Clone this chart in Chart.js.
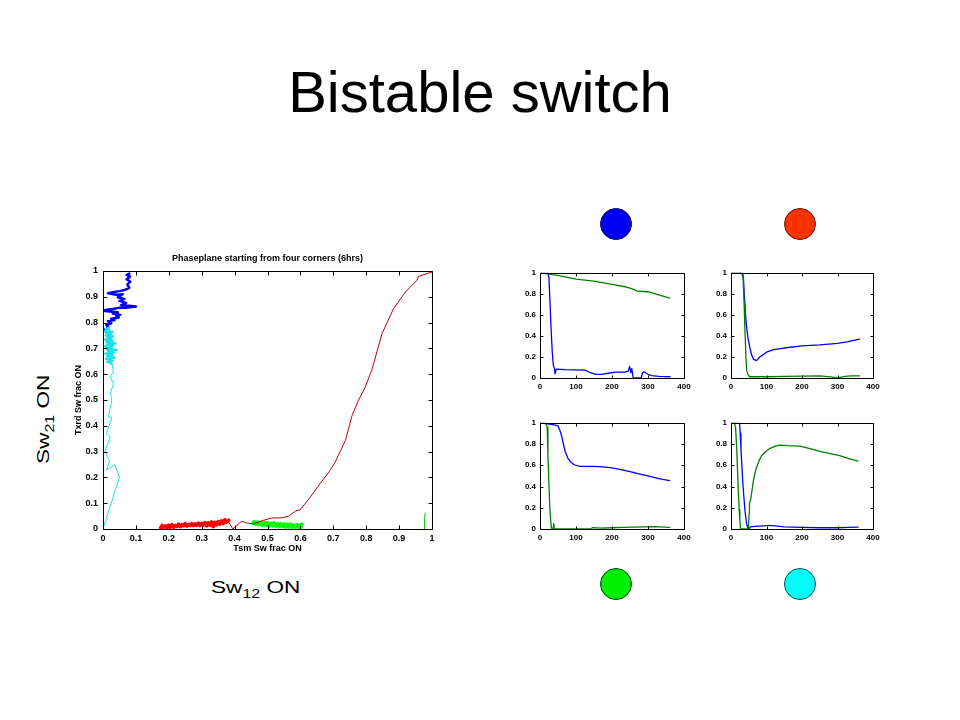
<!DOCTYPE html>
<html>
<head>
<meta charset="utf-8">
<title>Bistable switch</title>
<script src="https://cdn.jsdelivr.net/npm/chart.js@4.4.1/dist/chart.umd.min.js"></script>
<style>
  html, body { margin: 0; padding: 0; background: #fff; }
  body { width: 960px; height: 720px; position: relative; overflow: hidden; font-family: 'Liberation Sans', Arial, sans-serif; color: #000; }
  .box { position: absolute; }
  .slide-title { position: absolute; left: 0; top: 63px; width: 960px; text-align: center; font-size: 58px; line-height: 58px; }
  .dot { position: absolute; box-sizing: border-box; width: 32px; height: 32px; border-radius: 50%; border: 1px solid #222; }
  .side { position: absolute; font-size: 17px; line-height: 17px; white-space: nowrap; }
  .side .sub { font-size: 12px; position: relative; top: 5px; }
</style>
</head>
<body>
<div class="slide-title">Bistable switch</div>

<div class="side" style="left:35px; top:464px; transform-origin:0 0; transform:rotate(-90deg) scaleX(1.33);">Sw<span class="sub">21</span> ON</div>
<div class="side" style="left:211px; top:579px; transform-origin:0 0; transform:scaleX(1.33);">Sw<span class="sub">12</span> ON</div>

<div class="dot" style="left:600px; top:208px; background:#0000f0; border-color:#000060;"></div>
<div class="dot" style="left:784px; top:208px; background:#ff3300; border-color:#601000;"></div>
<div class="dot" style="left:600px; top:568px; background:#00ee00; border-color:#004000;"></div>
<div class="dot" style="left:784px; top:568px; background:#00ffff; border-color:#005050;"></div>

<div class="box" style="left:60px; top:244px; width:382px; height:312px;"><canvas id="phase"></canvas></div>
<div class="box" style="left:506px; top:264px; width:190px; height:134px;"><canvas id="cornerBlue"></canvas></div>
<div class="box" style="left:697px; top:264px; width:188px; height:134px;"><canvas id="cornerRed"></canvas></div>
<div class="box" style="left:506px; top:414px; width:190px; height:135px;"><canvas id="cornerGreen"></canvas></div>
<div class="box" style="left:697px; top:414px; width:188px; height:135px;"><canvas id="cornerCyan"></canvas></div>

<script>
// tick labels
const fracMainTicks = [0, 0.1, 0.2, 0.3, 0.4, 0.5, 0.6, 0.7, 0.8, 0.9, 1];
const timeTicks = [0, 100, 200, 300, 400];
const fracTicks = [0, 0.2, 0.4, 0.6, 0.8, 1];

// phase plane: [Tsm frac ON, Txrd frac ON]
const cyanPath = [[0,0],[0.02,0.08],[0.035,0.14],[0.05,0.2],[0.036,0.25],[0.017,0.232],[0.011,0.229],[0.02,0.262],[0.016,0.274],[0.006,0.3],[0.012,0.322],[0.022,0.357],[0.011,0.37],[0.017,0.395],[0.027,0.43],[0.017,0.435],[0.02,0.46],[0.027,0.5],[0.022,0.525],[0.032,0.563],[0.022,0.59],[0.032,0.609],[0.027,0.64]];
const cyanCluster = [[0.027,0.64],[0.012,0.648],[0.03,0.652],[0.008,0.66],[0.036,0.664],[0.012,0.67],[0.03,0.675],[0.006,0.68],[0.034,0.684],[0.014,0.69],[0.042,0.694],[0.01,0.698],[0.028,0.702],[0.006,0.707],[0.032,0.712],[0.012,0.716],[0.038,0.72],[0.01,0.725],[0.03,0.729],[0.006,0.734],[0.026,0.738],[0.012,0.742],[0.032,0.747],[0.008,0.751],[0.026,0.756],[0.01,0.76],[0.03,0.764],[0.006,0.768],[0.02,0.772],[0.008,0.776],[0.018,0.78]];
const bluePath = [[0.08,0.99],[0.072,0.985],[0.082,0.978],[0.072,0.968],[0.083,0.958],[0.074,0.948],[0.08,0.935],[0.065,0.926],[0.05,0.922],[0.03,0.918],[0.015,0.914],[0.04,0.908],[0.06,0.91],[0.045,0.898],[0.065,0.892],[0.05,0.884],[0.07,0.876],[0.055,0.868],[0.1,0.862],[0.07,0.858],[0.05,0.858],[0.03,0.853],[0.012,0.85],[0,0.846],[0.02,0.843],[0.045,0.84],[0.03,0.835],[0.052,0.83],[0.04,0.826],[0.048,0.82],[0.025,0.815],[0.035,0.81],[0.015,0.805],[0.025,0.797],[0.01,0.79],[0.016,0.782],[0.005,0.772],[0.01,0.764]];
const redPath = [[0.382,0.027],[0.395,0],[0.407,0.014],[0.422,0.03],[0.438,0.023],[0.458,0.02],[0.488,0.034],[0.514,0.043],[0.539,0.043],[0.564,0.049],[0.585,0.07],[0.6,0.075],[0.63,0.124],[0.66,0.176],[0.69,0.227],[0.706,0.26],[0.737,0.344],[0.757,0.44],[0.777,0.5],[0.797,0.55],[0.818,0.62],[0.848,0.757],[0.883,0.854],[0.919,0.918],[0.954,0.964],[0.959,0.979],[1,0.996]];
const redCluster = [[0.175,0.005],[0.18,0.014],[0.185,0.005],[0.19,0.012],[0.195,0.006],[0.2,0.015],[0.205,0.008],[0.21,0.017],[0.215,0.007],[0.22,0.014],[0.225,0.01],[0.23,0.019],[0.235,0.009],[0.24,0.017],[0.245,0.012],[0.25,0.021],[0.255,0.011],[0.26,0.018],[0.265,0.013],[0.27,0.021],[0.275,0.013],[0.28,0.02],[0.285,0.014],[0.29,0.023],[0.295,0.013],[0.3,0.022],[0.305,0.015],[0.31,0.025],[0.315,0.012],[0.32,0.024],[0.325,0.014],[0.33,0.028],[0.335,0.009],[0.34,0.026],[0.345,0.016],[0.35,0.029],[0.355,0.018],[0.36,0.032],[0.365,0.021],[0.37,0.036],[0.375,0.026],[0.382,0.034]];
const greenCluster = [[0.455,0.022],[0.46,0.029],[0.465,0.018],[0.47,0.027],[0.475,0.017],[0.48,0.026],[0.485,0.015],[0.49,0.026],[0.495,0.013],[0.5,0.024],[0.505,0.011],[0.51,0.022],[0.515,0.012],[0.52,0.024],[0.525,0.011],[0.53,0.02],[0.535,0.009],[0.54,0.021],[0.545,0.01],[0.55,0.02],[0.555,0.007],[0.56,0.018],[0.565,0.008],[0.57,0.019],[0.575,0.006],[0.58,0.016],[0.585,0.007],[0.59,0.017],[0.595,0.005],[0.6,0.016],[0.603,0.008],[0.605,0.019]];
const greenPath = [[0.976,0],[0.977,0.02],[0.978,0.04],[0.979,0.06]];

// corner runs: [minutes, frac ON]
const blueCornerBlue = [[0,1],[22,1],[25,0.95],[28,0.7],[31,0.45],[34,0.25],[37,0.12],[40,0.09],[42,0.04],[45,0.085],[70,0.08],[100,0.078],[125,0.075],[140,0.05],[155,0.035],[170,0.035],[190,0.045],[210,0.055],[235,0.055],[245,0.065],[249,0.11],[252,0.05],[255,0.09],[259,0],[281,0],[285,0.05],[289,0.06],[300,0.035],[310,0.022],[330,0.015],[361,0.012]];
const blueCornerGreen = [[0,1],[20,0.99],[50,0.975],[100,0.94],[150,0.92],[200,0.89],[240,0.865],[250,0.855],[262,0.84],[270,0.825],[300,0.82],[330,0.79],[360,0.76]];
const redCornerBlue = [[0,1],[33,1],[35,0.95],[37.5,0.79],[41,0.6],[44,0.48],[48,0.38],[53,0.29],[58,0.22],[63,0.18],[72,0.165],[81,0.2],[90,0.22],[100,0.245],[120,0.27],[150,0.285],[200,0.305],[250,0.315],[300,0.33],[330,0.345],[362,0.37]];
const redCornerGreen = [[0,1],[30,1],[34,0.95],[37,0.7],[39,0.48],[42,0.2],[44,0.075],[48,0.03],[52,0.012],[100,0.012],[150,0.015],[200,0.018],[250,0.02],[280,0.01],[300,0.002],[320,0.015],[340,0.02],[362,0.02]];
const greenCornerBlue = [[0,1],[20,0.99],[40,0.98],[50,0.97],[55,0.93],[60,0.88],[65,0.8],[70,0.73],[77,0.67],[85,0.63],[95,0.605],[110,0.59],[130,0.59],[150,0.59],[175,0.585],[200,0.575],[225,0.56],[250,0.54],[275,0.52],[300,0.5],[330,0.475],[360,0.455]];
const greenCornerGreen = [[0,1],[15,1],[20,0.96],[22,0.7],[25,0.4],[28,0.15],[31,0.02],[33,0],[37,0],[38,0.05],[40,0],[140,0],[145,0.012],[170,0.008],[200,0.012],[230,0.015],[260,0.018],[290,0.02],[320,0.022],[360,0.015]];
const cyanCornerBlue = [[0,1],[24,1],[26,0.9],[28,0.75],[30,0.64],[33,0.45],[37,0.27],[40,0.15],[44,0.05],[48,0],[52,0],[54,0.02],[70,0.025],[90,0.03],[110,0.035],[125,0.03],[150,0.02],[200,0.015],[250,0.012],[300,0.012],[330,0.015],[358,0.018]];
const cyanCornerGreen = [[0,1],[10,1],[13,0.95],[16,0.76],[19,0.5],[21,0.33],[23,0.18],[25,0.08],[27,0],[49,0],[51,0.15],[52,0.24],[55,0.27],[59,0.36],[63,0.45],[67,0.52],[72,0.58],[80,0.65],[86,0.69],[98,0.73],[110,0.76],[125,0.78],[138,0.79],[160,0.785],[194,0.78],[220,0.76],[250,0.73],[280,0.71],[306,0.69],[330,0.665],[358,0.64]];

Chart.defaults.font.family = "'Liberation Sans', Arial, sans-serif";
Chart.defaults.font.weight = 'bold';
Chart.defaults.color = '#000';
Chart.defaults.animation = false;

// matlab style box with inward ticks on all four sides
const boxTicks = {
    id: 'boxTicks',
    afterDatasetsDraw(chart, args, opts) {
        const { ctx, chartArea: a, scales: { x, y } } = chart;
        const len = opts.len || 4;
        const L = Math.round(a.left) + 0.5, R = Math.round(a.right) + 0.5;
        const T = Math.round(a.top) + 0.5, B = Math.round(a.bottom) + 0.5;
        ctx.save();
        ctx.strokeStyle = '#000';
        ctx.lineWidth = 1;
        ctx.beginPath();
        ctx.rect(L, T, R - L, B - T);
        x.ticks.forEach(t => {
            const px = Math.round(x.getPixelForValue(t.value)) + 0.5;
            ctx.moveTo(px, B); ctx.lineTo(px, B - len);
            ctx.moveTo(px, T); ctx.lineTo(px, T + len);
        });
        y.ticks.forEach(t => {
            const py = Math.round(y.getPixelForValue(t.value)) + 0.5;
            ctx.moveTo(L, py); ctx.lineTo(L + len, py);
            ctx.moveTo(R, py); ctx.lineTo(R - len, py);
        });
        ctx.stroke();
        ctx.restore();
    }
};

const pts = arr => arr.map(([x, y]) => ({ x, y }));

function line(data, color, width) {
    return {
        data: pts(data), borderColor: color, backgroundColor: color, borderWidth: width,
        borderJoinStyle: 'round', borderCapStyle: 'round',
        showLine: true, pointRadius: 0, tension: 0
    };
}

function scale(list, fitSize, pad, fontSize, label, horiz) {
    return {
        type: 'linear',
        min: list[0],
        max: list[list.length - 1],
        grid: { display: false, drawTicks: false },
        border: { display: false },
        ticks: { padding: pad, autoSkip: false, maxRotation: 0, font: { size: fontSize, weight: 'bold' }, callback: v => String(v) },
        afterBuildTicks: s => { s.ticks = list.map(v => ({ value: v })); },
        afterFit: s => { if (horiz) { s.height = fitSize; } else { s.width = fitSize; } },
        title: label ? { display: true, text: label, padding: 0, font: { size: 9, weight: 'bold' } } : { display: false }
    };
}

new Chart(document.getElementById('phase'), {
    type: 'scatter',
    data: {
        datasets: [
            line(cyanPath, '#20e0e8', 1),
            line(cyanCluster, '#20e0e8', 2.2),
            line(bluePath, '#0000ff', 2.5),
            line(redPath, '#c00000', 1),
            line(redCluster, '#ff0000', 3.5),
            line(greenCluster, '#00ff00', 3.5),
            line(greenPath, '#00c000', 1)
        ]
    },
    options: {
        responsive: true,
        maintainAspectRatio: false,
        layout: { padding: { left: 13, top: 10, right: 10, bottom: 2 } },
        plugins: {
            legend: { display: false },
            tooltip: { enabled: false },
            title: {
                display: true,
                fullSize: false,
                text: 'Phaseplane starting from four corners (6hrs)',
                padding: { top: 0, bottom: 7 },
                font: { size: 9, weight: 'bold', lineHeight: 1.1111 }
            },
            boxTicks: { len: 4 }
        },
        scales: {
            x: scale(fracMainTicks, 25, 4, 9, 'Tsm Sw frac ON', true),
            y: scale(fracMainTicks, 30, 5, 9, 'Txrd Sw frac ON', false)
        }
    },
    plugins: [boxTicks]
});

function corner(id, blue, green) {
    new Chart(document.getElementById(id), {
        type: 'scatter',
        data: {
            datasets: [
                line(green, '#008000', 1.3),
                line(blue, '#0000ff', 1.3)
            ]
        },
        options: {
            responsive: true,
            maintainAspectRatio: false,
            layout: { padding: { left: 4, top: 7, right: 12, bottom: 2 } },
            plugins: {
                legend: { display: false },
                tooltip: { enabled: false },
                boxTicks: { len: 3 }
            },
            scales: {
                x: scale(timeTicks, 18, 4, 8, null, true),
                y: scale(fracTicks, 30, 4, 8, null, false)
            }
        },
        plugins: [boxTicks]
    });
}

corner('cornerBlue', blueCornerBlue, blueCornerGreen);
corner('cornerRed', redCornerBlue, redCornerGreen);
corner('cornerGreen', greenCornerBlue, greenCornerGreen);
corner('cornerCyan', cyanCornerBlue, cyanCornerGreen);
</script>
</body>
</html>
